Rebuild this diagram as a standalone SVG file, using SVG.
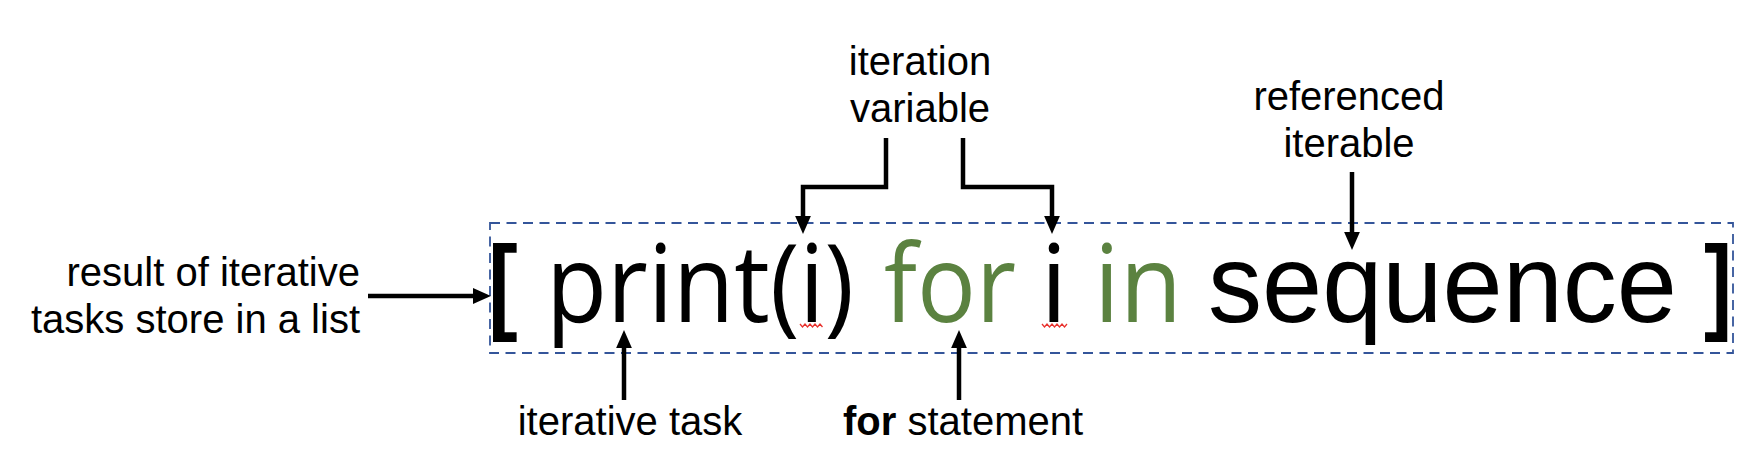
<svg xmlns="http://www.w3.org/2000/svg" width="1760" height="456" viewBox="0 0 1760 456">
<style>
.lbl{font-family:"Liberation Sans",Arial,Helvetica,sans-serif;font-size:40px;fill:#000}
.code{font-family:"Open Sans","Noto Sans",sans-serif;font-size:108px}
.seq{font-family:"Liberation Sans",Arial,sans-serif;font-size:112px;fill:#000}
.brk{font-family:"Liberation Sans",Arial,sans-serif;font-size:105px;font-weight:bold;fill:#000}
.blk{fill:#000}
.grn{fill:#5b8240}
.conn{fill:none;stroke:#000;stroke-width:4.5;marker-end:url(#ah)}
.sq{fill:none;stroke:#e8332f;stroke-width:1.3}
</style>
<defs>
<marker id="ah" markerUnits="userSpaceOnUse" markerWidth="18" markerHeight="16" viewBox="0 0 17 15" refX="2" refY="7.5" orient="auto">
<path d="M0,0 L17,7.5 L0,15 z" fill="#000"/>
</marker>
</defs>
<rect width="1760" height="456" fill="#fff"/>

<g id="code-box">
<rect x="490" y="223" width="1243" height="130" fill="none" stroke="#34559a" stroke-width="1.8" stroke-dasharray="10,6.5"/>
<text class="brk" x="488" y="320" transform="translate(488 320) scale(0.85 1) translate(-488 -320)">[</text>
<text class="code blk" x="546" y="322" textLength="308" lengthAdjust="spacingAndGlyphs">print(i)</text>
<text class="code grn" x="884" y="322" textLength="132" lengthAdjust="spacingAndGlyphs">for</text>
<text class="code blk" x="1054" y="322" text-anchor="middle">i</text>
<text class="code grn" x="1094" y="322" textLength="88" lengthAdjust="spacingAndGlyphs">in</text>
<text class="seq" x="1208" y="322" textLength="469" lengthAdjust="spacingAndGlyphs">sequence</text>
<text class="brk" x="1704" y="320" transform="translate(1704 320) scale(0.8 1) translate(-1704 -320)">]</text>
<path class="sq" d="M800,324 l2.5,3 l2.5,-3 l2.5,3 l2.5,-3 l2.5,3 l2.5,-3 l2.5,3 l2.5,-3 l2.5,3"/>
<path class="sq" d="M1042,324 l2.5,3 l2.5,-3 l2.5,3 l2.5,-3 l2.5,3 l2.5,-3 l2.5,3 l2.5,-3 l2.5,3 l2.5,-3"/>
</g>

<g id="label-result">
<text class="lbl" x="360" y="286" text-anchor="end">result of iterative</text>
<text class="lbl" x="360" y="333" text-anchor="end">tasks store in a list</text>
</g>

<g id="label-iteration-variable">
<text class="lbl" x="920" y="75" text-anchor="middle">iteration</text>
<text class="lbl" x="920" y="122" text-anchor="middle">variable</text>
</g>

<g id="label-referenced-iterable">
<text class="lbl" x="1349" y="110" text-anchor="middle">referenced</text>
<text class="lbl" x="1349" y="157" text-anchor="middle">iterable</text>
</g>

<g id="label-iterative-task">
<text class="lbl" x="630" y="435" text-anchor="middle">iterative task</text>
</g>

<g id="label-for-statement">
<text class="lbl" x="843" y="435"><tspan font-weight="bold">for</tspan> statement</text>
</g>

<g id="connectors">
<path class="conn" d="M368,296 H475"/>
<path class="conn" d="M886,138 V187 H803 V218"/>
<path class="conn" d="M963,138 V187 H1052 V218"/>
<path class="conn" d="M1352,172 V234"/>
<path class="conn" d="M624,400 V346"/>
<path class="conn" d="M959,400 V346"/>
</g>
</svg>
